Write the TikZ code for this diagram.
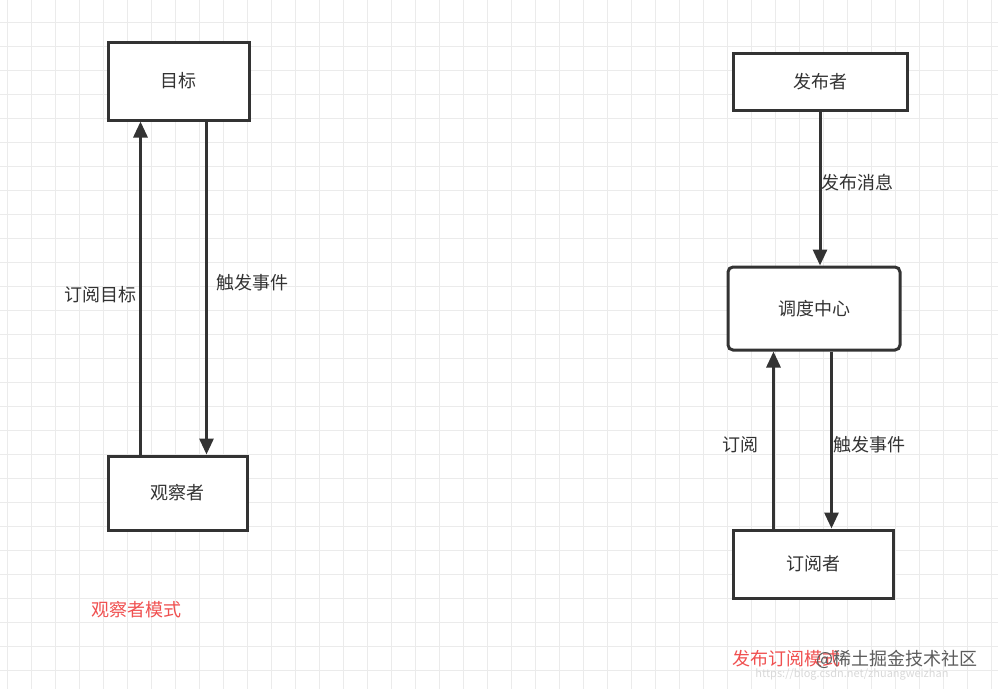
\documentclass[tikz,border=0pt]{standalone}
\usepackage{fontspec}
\setmainfont{Noto Sans CJK SC}
\usetikzlibrary{arrows.meta}
\definecolor{ink}{HTML}{333333}
\definecolor{gridc}{HTML}{EBEBEB}
\definecolor{redt}{HTML}{F05050}
\begin{document}
\begin{tikzpicture}[x=1pt,y=-1pt,
  box/.style={draw=ink,line width=3pt,fill=white,inner sep=0pt,font=\fontsize{18}{20}\selectfont,text=ink},
  arr/.style={draw=ink,line width=3pt,-{Triangle[length=16pt,width=14pt]}},
  lbl/.style={font=\fontsize{18}{20}\selectfont,text=ink}]
\fill[white] (0,0) rectangle (998,689);
\useasboundingbox (0,0) rectangle (998,689);
\foreach \x in {7,31,...,998} \draw[gridc,line width=1pt] (\x,0) -- (\x,689);
\foreach \y in {22,46,...,689} \draw[gridc,line width=1pt] (0,\y) -- (998,\y);
\node[box,minimum width=141pt,minimum height=78pt] (mb) at (178.5,81) {目标};
\node[box,minimum width=139pt,minimum height=74pt] (gc) at (177.5,493) {观察者};
\node[box,minimum width=174pt,minimum height=57pt] (fb) at (820,81.5) {发布者};
\node[box,rounded corners=5pt,minimum width=172pt,minimum height=83pt] (dd) at (814,308.5) {调度中心};
\node[box,minimum width=160pt,minimum height=68pt] (dy) at (813,564) {订阅者};
\draw[arr] (gc.south west |- gc.north) ++(34,0) coordinate (a1) -- (a1 |- mb.south);
\draw[arr] (mb.south west) ++(100,0) coordinate (a2) -- (a2 |- gc.north);
\node[lbl] (l1) at (100,295) {订阅目标};
\node[lbl] (l2) at (252,283) {触发事件};
\draw[arr] (fb.south) -- (fb.south |- dd.north);
\node[lbl] (l3) at (857,183) {发布消息};
\draw[arr] (dy.north west) ++(42,0) coordinate (a3) -- (a3 |- dd.south);
\coordinate (a4) at ([xshift=100pt]dy.north west);
\draw[arr] (a4 |- dd.south) -- (a4);
\node[lbl] (l4) at (740,445) {订阅};
\node[lbl] (l5) at (869,445) {触发事件};
\node[font=\fontsize{18}{20}\selectfont,text=redt] (r1) at (136,610) {观察者模式};
\node[font=\fontsize{18}{20}\selectfont,text=redt] (r2) at (786,659) {发布订阅模式};
\node[font=\fontsize{11}{12}\selectfont,text=gray!30] (u) at (852,674) {https://blog.csdn.net/zhuangweizhan};
\node[font=\fontsize{18}{20}\selectfont,text=ink!80] (w) at (897,659) {@稀土掘金技术社区};
\end{tikzpicture}
\end{document}
